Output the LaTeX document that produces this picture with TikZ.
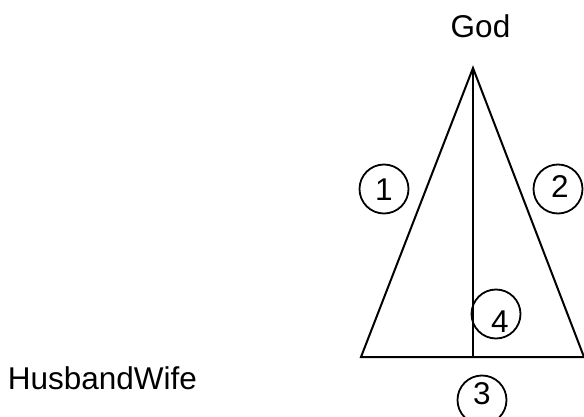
\documentclass[tikz,border=0pt]{standalone}
\usepackage{fontspec}
\setmainfont{Liberation Sans}
\begin{document}
\begin{tikzpicture}[x=0.5pt, y=-0.5pt,
	every node/.style={font=\fontsize{15.75}{19}\selectfont, inner sep=0pt},
	ring/.style={draw, circle, line width=0.9pt, minimum size=24.5pt},
	side/.style={line width=1pt, line join=miter}]
	\useasboundingbox (0,0) rectangle (584,417);
	% corners of the triangle
	\coordinate (apex) at (473,68);
	\coordinate (left) at (361,357);
	\coordinate (right) at (584,357);
	\coordinate (foot) at (473,357);
	\draw[side] (left) -- (apex) -- (right) -- cycle;
	\draw[side] (apex) -- (foot);
	\node[anchor=base] (god) at (480.5,38) {God};
	\node[anchor=base west] (couple) at (7.5,389) {HusbandWife};
	% numbered rings
	\node[ring] (r1) at (384,189) {};
	\node[ring] (r2) at (558,189) {};
	\node[ring] (r3) at (482,400) {};
	\node[ring] (r4) at (496,314) {};
	\node (n1) at (384,190) {1};
	\node (n2) at (560,187) {2};
	\node (n3) at (482,393.5) {3};
	\node (n4) at (500,322) {4};
\end{tikzpicture}
\end{document}
